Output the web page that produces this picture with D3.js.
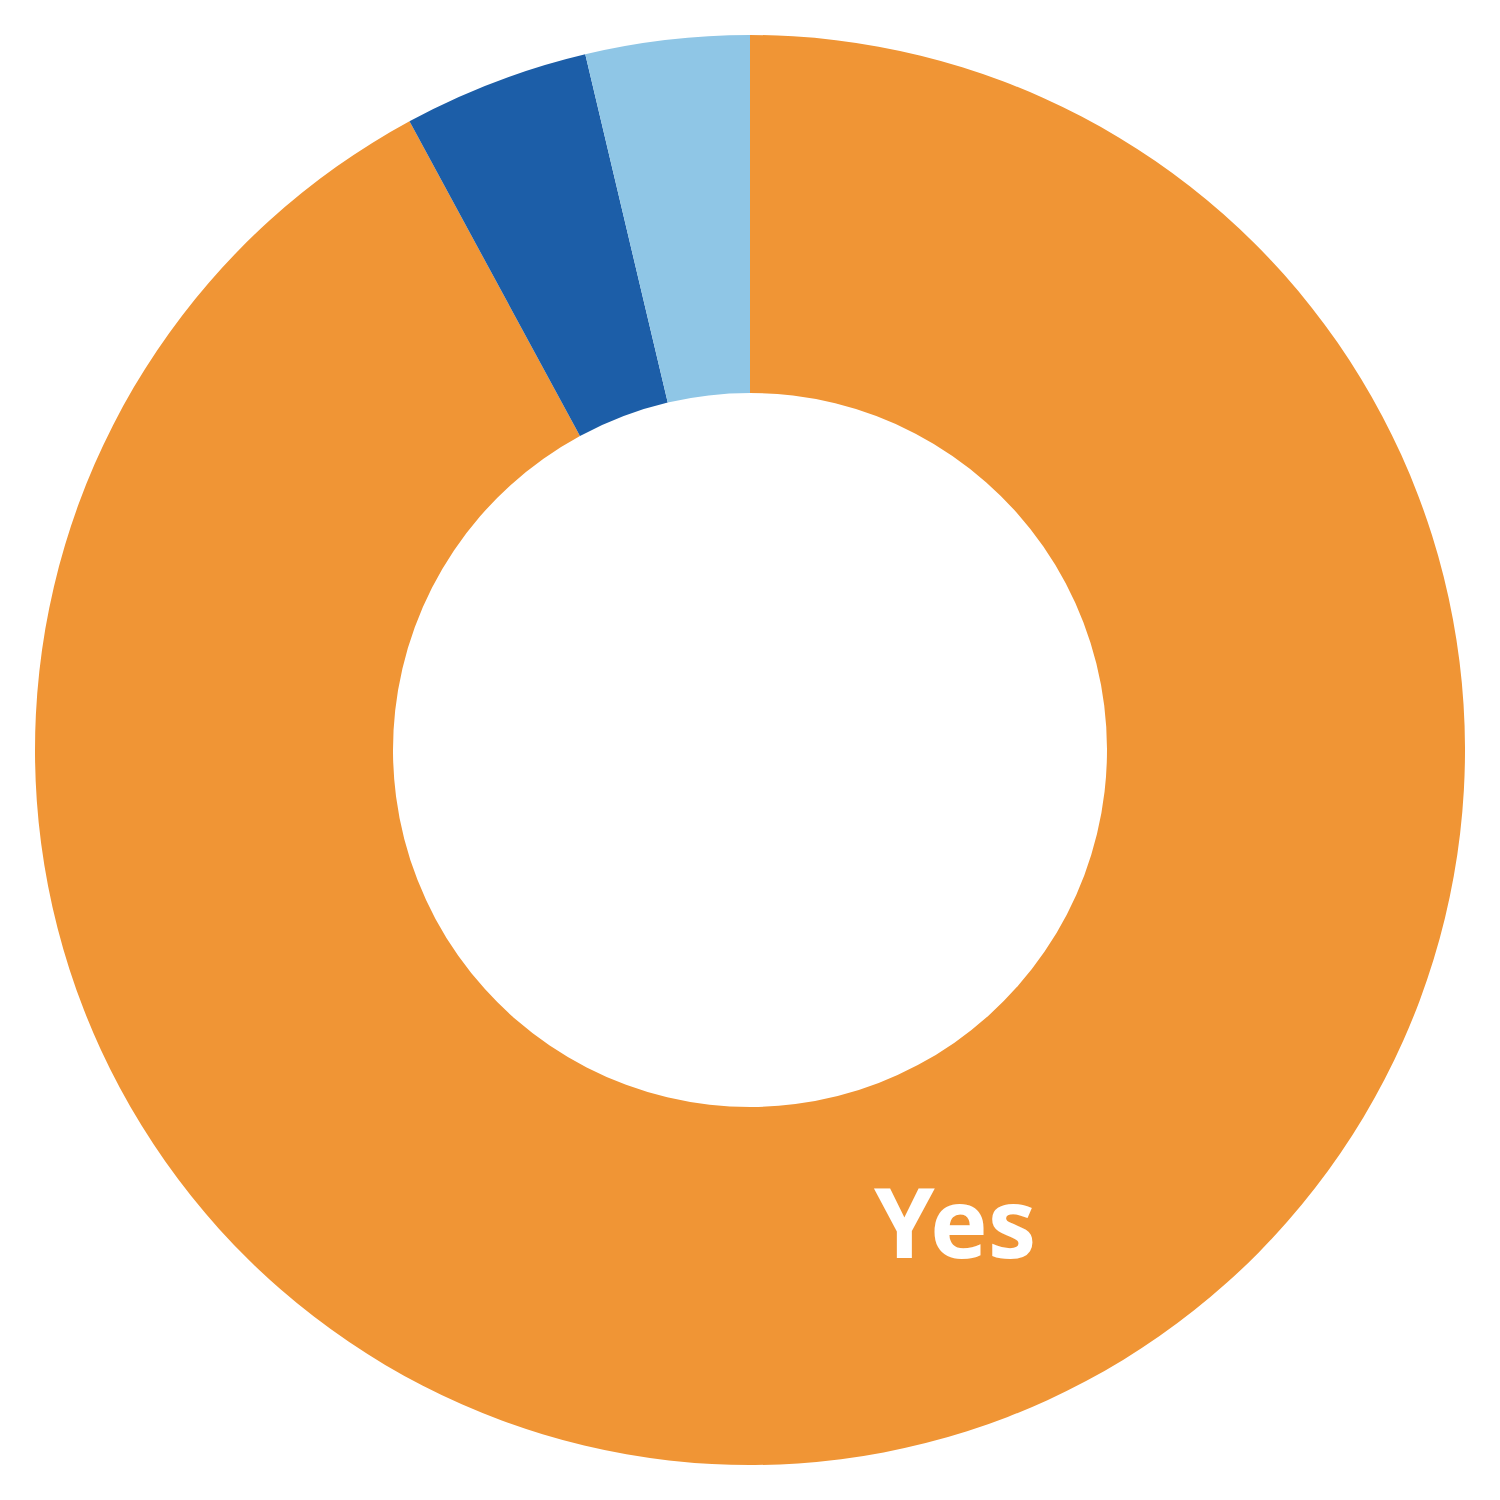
<!DOCTYPE html>
<html>
<head>
<meta charset="utf-8">
<script src="https://cdn.jsdelivr.net/npm/d3@7"></script>
<style>
  body { margin: 0; background: #fff; }
</style>
</head>
<body>
<div class="donut"></div>
<script>
// data
const categories = ["Yes", "No", "Unsure"];
const values = [92.1, 4.2, 3.7];
const colors = ["#F09535", "#1C5EA8", "#8FC6E6"];
const labels = ["Yes", "", ""];

const width = 1500;
const height = 1500;
const outerR = 715;
const innerR = 357;

const svg = d3.select(".donut")
    .append("svg")
    .attr("width", width)
    .attr("height", height);

const g = svg.append("g")
    .attr("transform", `translate(${width / 2},${height / 2})`);

const data = categories.map((c, i) => ({ name: c, value: values[i], color: colors[i], label: labels[i] }));

const pie = d3.pie()
    .sort(null)
    .value(d => d.value);

const arc = d3.arc()
    .innerRadius(innerR)
    .outerRadius(outerR);

const arcs = pie(data);

g.selectAll("path")
    .data(arcs)
    .enter()
    .append("path")
    .attr("d", arc)
    .attr("fill", d => d.data.color);

// label sits a bit off the centroid, lower right of the ring
const labelAngle = 156.6 * Math.PI / 180;
const labelR = 517;

g.selectAll("text")
    .data(arcs.filter(d => d.data.label))
    .enter()
    .append("text")
    .attr("x", labelR * Math.sin(labelAngle))
    .attr("y", -labelR * Math.cos(labelAngle))
    .attr("text-anchor", "middle")
    .attr("dy", "0.35em")
    .attr("fill", "white")
    .style("font-family", "'Noto Sans', sans-serif")
    .style("font-weight", "700")
    .style("font-size", "97px")
    .text(d => d.data.label);
</script>
</body>
</html>
